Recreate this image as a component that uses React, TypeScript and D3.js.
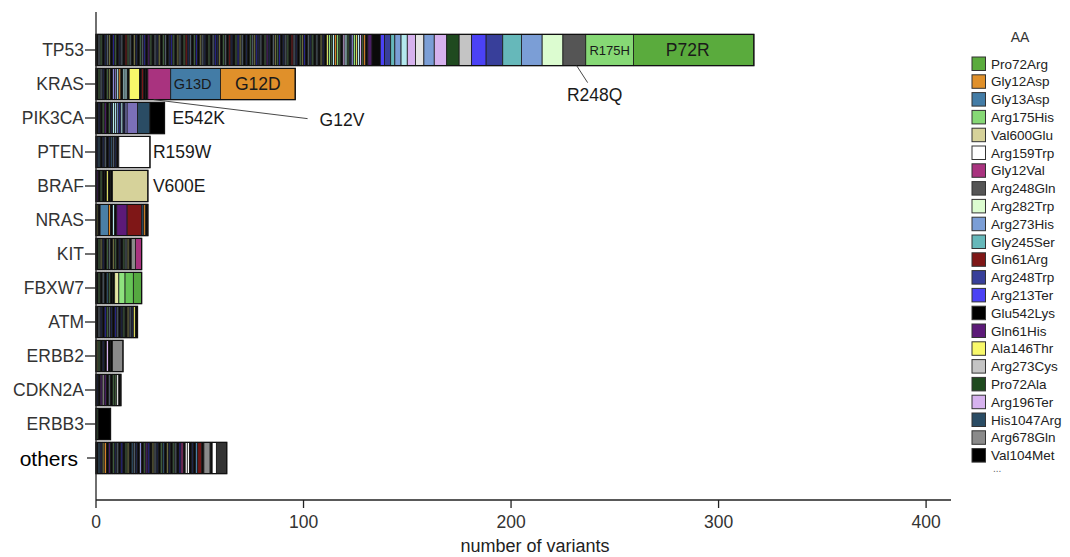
import React from 'react'
import * as d3 from 'd3'

type Seg = [string, number]

const genes = ["TP53", "KRAS", "PIK3CA", "PTEN", "BRAF", "NRAS", "KIT", "FBXW7", "ATM", "ERBB2", "CDKN2A", "ERBB3", "others"]

const legendAA = ["Pro72Arg", "Gly12Asp", "Gly13Asp", "Arg175His", "Val600Glu", "Arg159Trp", "Gly12Val", "Arg248Gln",
  "Arg282Trp", "Arg273His", "Gly245Ser", "Gln61Arg", "Arg248Trp", "Arg213Ter", "Glu542Lys", "Gln61His", "Ala146Thr",
  "Arg273Cys", "Pro72Ala", "Arg196Ter", "His1047Arg", "Arg678Gln", "Val104Met"]
const legendColors = ["#5aab3d", "#e0902a", "#437ca6", "#86d875", "#d6d29a", "#ffffff", "#a9337f", "#555555",
  "#dcfcd0", "#7b9ed6", "#66b8ba", "#7f1717", "#383f9a", "#4b42f5", "#000000", "#5c1a78", "#f8f86a",
  "#c4c4c4", "#1f4a1f", "#d6b2ee", "#2a4c64", "#8a8a8a", "#000000"]

// colours of the rarer variants that are not in the legend, one letter each
const minorColors: Record<string, string> = {
  k: "#0a0a0a", s: "#4e5a66", n: "#1e2548", g: "#3d5c3a", o: "#6b6b3e", p: "#4a1f66", b: "#26248a",
  r: "#6e1616", z: "#2c4a60", m: "#8a8a8a", y: "#d8d860", h: "#8ee27e", c: "#b4e8ee", a: "#e08a2a",
  q: "#d6b2ee", l: "#8a8ad6", v: "#7a70b8", t: "#4a7fa6", w: "#ffffff", W: "#e4e4e4", e: "#66b8ba",
  L: "#7b9ed6", B: "#4b42f5", N: "#383f9a", Y: "#e6e6a4", G: "#66c456", P: "#55a840", M: "#a9337f", D: "#333333",
}

// one letter = one variant seen once
const ones = (s: string): Seg[] => s.split("").map(c => [c, 1] as Seg)

const tp53: Seg[] = [
  ...ones("ksgknsokbg" + "knskrgskon" + "kgsbkpgksn" + "okgsknbgko" + "skgrnskgbk" + "osnkgksbno" +
    "kgskrnkgbo" + "sknkgsobns" + "kgpnksogbk" + "nsgkrsnkgo" + "bksngkskon" + "k"),
  ...ones("yhgcahgkqcgnlhycqgak"),
  ["p", 2], ["k", 4], ["B", 2], ["N", 3], ["e", 2], ["L", 3], ["c", 3], ["q", 4], ["W", 4], ["L", 5],
  ["Arg196Ter", 6], ["Pro72Ala", 6], ["Arg273Cys", 6], ["Arg213Ter", 7], ["Arg248Trp", 8], ["Gly245Ser", 9],
  ["Arg273His", 10], ["Arg282Trp", 10], ["Arg248Gln", 11], ["Arg175His", 23], ["Pro72Arg", 58],
]
const kras: Seg[] = [...ones("kgsnkgoklvcakcck"), ["Ala146Thr", 5], ...ones("k"), ["Gln61Arg", 1], ...ones("kk"),
  ["Gly12Val", 11], ["Gly13Asp", 24], ["Gly12Asp", 36]]
const pik3ca: Seg[] = [...ones("knkgpkgnccLbcnl"), ["v", 5], ["His1047Arg", 6], ["Glu542Lys", 7]]
const pten: Seg[] = [...ones("nzknsknzsnk"), ["Arg159Trp", 15]]
const braf: Seg[] = [...ones("pkgkkykk"), ["Val600Glu", 17]]
const nras: Seg[] = [...ones("ok"), ["t", 4], ...ones("akck"), ["Gln61His", 5], ["Gln61Arg", 7], ...ones("zak")]
const kit: Seg[] = [...ones("kgonkgskogknkgsok"), ["m", 2], ["M", 3]]
const fbxw7: Seg[] = [...ones("kgkskzgkk"), ["Y", 2], ["h", 3], ["G", 4], ["P", 4]]
const atm: Seg[] = ones("ksnkbgsnkbskngkosnyk")
const erbb2: Seg[] = [...ones("ogknkqkk"), ["Arg678Gln", 5]]
const cdkn2a: Seg[] = ones("nkpmpkskggwk")
const erbb3: Seg[] = [...ones("g"), ["Val104Met", 6]]
const others: Seg[] = [...ones("kznoakpkgn" + "skbkgokzsn" + "klkgpbkosn" + "kgzkonkgsk" + "b"),
  ...ones("Mkwwknkt"), ["r", 2], ...ones("k"), ["m", 3], ...ones("k"), ["w", 2], ["D", 5]]

const geneSegs: Seg[][] = [tp53, kras, pik3ca, pten, braf, nras, kit, fbxw7, atm, erbb2, cdkn2a, erbb3, others]

const xTicks = [0, 100, 200, 300, 400]

const insideLabels = [
  { gene: "TP53", aa: "Arg175His", text: "R175H", size: 13, dx: 0 },
  { gene: "TP53", aa: "Pro72Arg", text: "P72R", size: 17.5, dx: -6 },
  { gene: "KRAS", aa: "Gly13Asp", text: "G13D", size: 14.5, dx: -3 },
  { gene: "KRAS", aa: "Gly12Asp", text: "G12D", size: 17.5, dx: 0 },
]
const besideLabels = [
  { gene: "PIK3CA", text: "E542K", dx: 8 },
  { gene: "PTEN", text: "R159W", dx: 3 },
  { gene: "BRAF", text: "V600E", dx: 5 },
]
const leaderLabels = [
  { gene: "TP53", aa: "Arg248Gln", text: "R248Q", at: 0.6, lx: 11, ly: 17, anchor: "middle", tx: 7, ty: 12 },
  { gene: "KRAS", aa: "Gly12Val", text: "G12V", at: 0.25, lx: 154, ly: 19, anchor: "start", tx: 12, ty: 1 },
]

const font = "'Liberation Sans', Arial, sans-serif"

export default function App() {
  const W = 1070, H = 557
  const x = d3.scaleLinear().domain([0, 412]).range([96, 951])
  const y = d3.scaleBand<string>().domain(genes).range([33, 475]).paddingInner(0.08).paddingOuter(0.04)
  const bw = y.bandwidth()
  const aaColor = new Map(legendAA.map((a, i) => [a, legendColors[i]]))
  const colorOf = (k: string) => aaColor.get(k) ?? minorColors[k] ?? "#000"

  const stacked = genes.map((g, gi) => {
    let cum = 0
    const segs = geneSegs[gi].map(([key, n]) => {
      const s = { key, x0: cum, x1: cum + n }
      cum += n
      return s
    })
    return { gene: g, segs, total: cum }
  })
  const findSeg = (gene: string, aa: string) =>
    stacked.find(d => d.gene === gene)!.segs.find(s => s.key === aa)!
  const totalOf = (gene: string) => stacked.find(d => d.gene === gene)!.total

  return (
    <svg width={W} height={H} style={{ position: 'absolute', left: 0, top: 0, fontFamily: font, background: '#fff' }}>
      {/* bars */}
      {stacked.map(d => (
        <g key={d.gene}>
          {d.segs.map((s, i) => (
            <rect key={i} x={x(s.x0)} y={y(d.gene)!} width={x(s.x1) - x(s.x0)} height={bw}
              fill={colorOf(s.key)} stroke="#1a1a1a" strokeWidth={0.8} />
          ))}
          <rect x={x(0)} y={y(d.gene)!} width={x(d.total) - x(0)} height={bw}
            fill="none" stroke="#111" strokeWidth={1.3} />
        </g>
      ))}

      {/* y axis */}
      <line x1={96} x2={96} y1={12} y2={500} stroke="#222" strokeWidth={1.3} />
      {genes.map(g => {
        const cy = y(g)! + bw / 2
        const isOther = g === "others"
        return (
          <g key={g}>
            <line x1={isOther ? 87 : 85} x2={96} y1={cy} y2={cy} stroke="#222" strokeWidth={1.3} />
            <text x={isOther ? 78 : 84} y={cy} textAnchor="end" dominantBaseline="central"
              fontSize={isOther ? 21 : 17.5} fill={isOther ? "#000" : "#333"}>{g}</text>
          </g>
        )
      })}

      {/* x axis */}
      <line x1={x(0)} x2={951} y1={500} y2={500} stroke="#222" strokeWidth={1.3} />
      {xTicks.map(t => (
        <g key={t}>
          <line x1={x(t)} x2={x(t)} y1={500} y2={508} stroke="#222" strokeWidth={1.3} />
          <text x={x(t)} y={528} textAnchor="middle" fontSize={17.5} fill="#333">{t}</text>
        </g>
      ))}
      <text x={535} y={552} textAnchor="middle" fontSize={18} fill="#222">number of variants</text>

      {/* labels inside segments */}
      {insideLabels.map(l => {
        const s = findSeg(l.gene, l.aa)
        return (
          <text key={l.text} x={(x(s.x0) + x(s.x1)) / 2 + l.dx} y={y(l.gene)! + bw / 2}
            textAnchor="middle" dominantBaseline="central" fontSize={l.size} fill="#1a1a1a">{l.text}</text>
        )
      })}
      {besideLabels.map(l => (
        <text key={l.text} x={x(totalOf(l.gene)) + l.dx} y={y(l.gene)! + bw / 2}
          dominantBaseline="central" fontSize={17.5} fill="#1a1a1a">{l.text}</text>
      ))}
      {leaderLabels.map(l => {
        const s = findSeg(l.gene, l.aa)
        const sx = x(s.x0) + (x(s.x1) - x(s.x0)) * l.at
        const sy = y(l.gene)! + bw
        return (
          <g key={l.text}>
            <line x1={sx} y1={sy} x2={sx + l.lx} y2={sy + l.ly} stroke="#333" strokeWidth={0.9} />
            <text x={sx + l.lx + l.tx} y={sy + l.ly + l.ty} textAnchor={l.anchor as any}
              dominantBaseline="central" fontSize={17.5} fill="#1a1a1a">{l.text}</text>
          </g>
        )
      })}

      {/* legend */}
      <text x={1020} y={37} textAnchor="middle" dominantBaseline="central" fontSize={14} fill="#333">AA</text>
      {legendAA.map((a, i) => {
        const ty = 57 + i * 17.8
        return (
          <g key={a}>
            <rect x={972} y={ty} width={13.5} height={13.5} fill={legendColors[i]} stroke="#333" strokeWidth={1} />
            <text x={991} y={ty + 7} dominantBaseline="central" fontSize={13.5} fill="#222">{a}</text>
          </g>
        )
      })}
      <text x={993} y={468} dominantBaseline="central" fontSize={10} fill="#666">...</text>
    </svg>
  )
}
